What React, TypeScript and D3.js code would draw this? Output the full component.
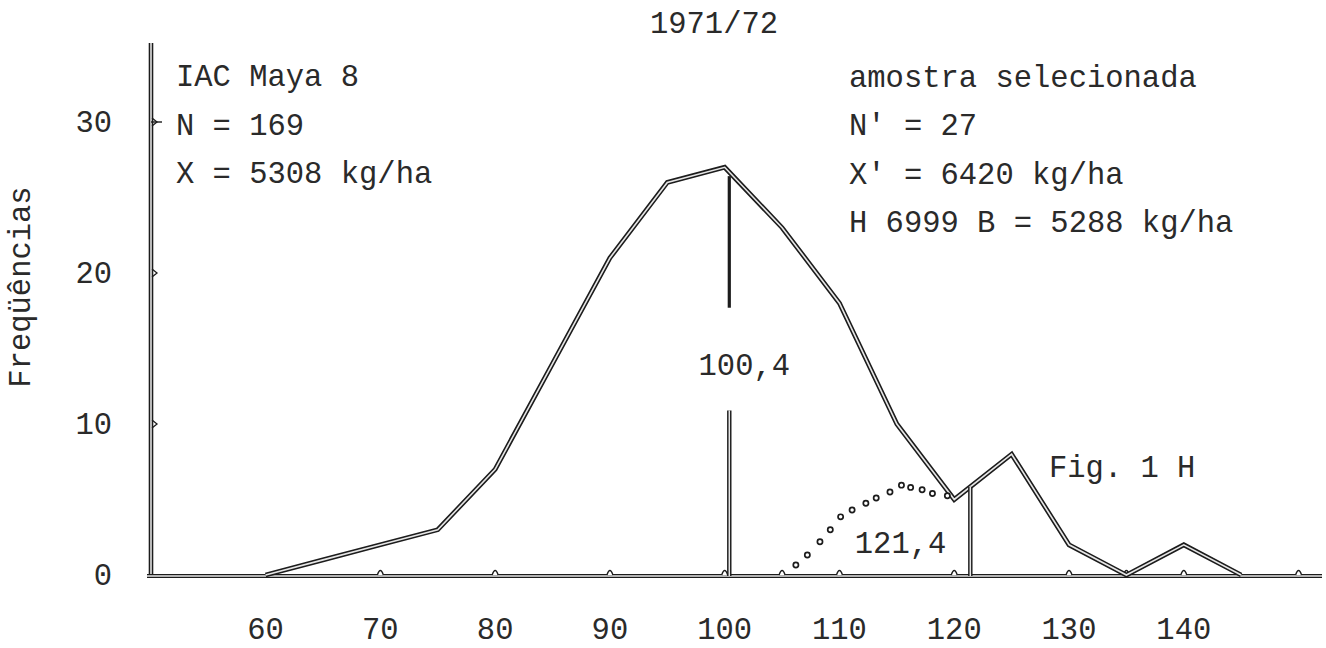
import React from "react";
import * as d3 from "d3";

// Frequency polygon, IAC Maya 8, 1971/72
const classMid = [60, 65, 70, 75, 80, 85, 90, 95, 100, 105, 110, 115, 120, 125, 130, 135, 140, 145];
const frequency = [0, 1, 2, 3, 7, 14, 21, 26, 27, 23, 18, 10, 5, 8, 2, 0, 2, 0];

// Dotted curve of the selected sample
const sampleX = [106.2, 107.2, 108.3, 109.2, 110.1, 111.1, 112.3, 113.2, 114.4, 115.4, 116.2, 117.2, 118.1, 119.4];
const sampleY = [0.66, 1.32, 2.2, 3.0, 3.85, 4.3, 4.75, 5.1, 5.5, 5.95, 5.8, 5.65, 5.4, 5.25];

const xTickLabels = [60, 70, 80, 90, 100, 110, 120, 130, 140];
const xTickMarks = [70, 80, 90, 100, 105, 110, 120, 130, 135, 140, 150];
const yTickLabels = [0, 10, 20, 30];

const meanAll = 100.4;
const meanSample = 121.4;

const leftLines = ["IAC Maya 8", "N = 169", "X = 5308 kg/ha"];
const rightLines = ["amostra selecionada", "N' = 27", "X' = 6420 kg/ha", "H 6999 B = 5288 kg/ha"];

const W = 1326;
const H = 648;
const INK = "#1c1c1c";
const TEXT_INK = "#2a2a2a";
const FONT = "'Liberation Mono', 'DejaVu Sans Mono', monospace";
const FS = 30.5;

const x = d3.scaleLinear().domain([60, 140]).range([265.6, 1183.8]);
const y = d3.scaleLinear().domain([0, 30]).range([575, 122]);

const interp = (v: number) => {
  const i = d3.bisectRight(classMid, v) - 1;
  const t = (v - classMid[i]) / (classMid[i + 1] - classMid[i]);
  return frequency[i] + t * (frequency[i + 1] - frequency[i]);
};

// Hollow "double" stroke used for the hand-inked lines
const Hollow = ({ d, w = 4 }: { d: string; w?: number }) => (
  <g fill="none" strokeLinejoin="miter" strokeLinecap="butt">
    <path d={d} stroke={INK} strokeWidth={w} />
    <path d={d} stroke="#e6e6e6" strokeWidth={w * 0.34} />
  </g>
);

export default function App() {
  const line = d3
    .line<number>()
    .x((_, i) => x(classMid[i]))
    .y((v) => y(v));
  const polygon = line(frequency) || "";

  const baseY = y(0) + 1;
  const axisX = 151;
  const axisPath = `M${axisX},43 L${axisX},${baseY}`;
  const basePath = `M147,${baseY} L1322,${baseY}`;

  const xm = x(meanAll);
  const fm = interp(meanAll);
  const upperMean = `M${xm},${y(fm) + 4} L${xm},${y(17.7)}`;
  const lowerMean = `M${xm},${y(10.9)} L${xm},${baseY}`;

  const xs = x(meanSample);
  const sampleLine = `M${xs},${baseY} L${xs},${y(interp(meanSample))}`;

  return (
    <svg
      width={W}
      height={H}
      viewBox={`0 0 ${W} ${H}`}
      style={{ position: "absolute", left: 0, top: 0, background: "#fff", display: "block" }}
    >
      <rect width={W} height={H} fill="#fff" />

      {/* title */}
      <text x={714} y={33} textAnchor="middle" fontFamily={FONT} fontSize={FS} fill={TEXT_INK}>
        1971/72
      </text>

      {/* axes */}
      <Hollow d={axisPath} w={4.6} />
      <Hollow d={basePath} w={4} />

      {/* y ticks and labels */}
      {yTickLabels.map((t) => (
        <g key={`y${t}`}>
          {t > 0 && (
            <path
              d={`M${axisX + 1},${y(t) - 4} L${axisX + 6},${y(t)} L${axisX + 1},${y(t) + 4}`}
              fill="none"
              stroke={INK}
              strokeWidth={1.3}
            />
          )}
          {t === 30 && <path d={`M${axisX},${y(t)} L${axisX + 11},${y(t)}`} stroke={INK} strokeWidth={1.4} />}
          <text
            x={112}
            y={y(t) + 10}
            textAnchor="end"
            fontFamily={FONT}
            fontSize={FS}
            fill={TEXT_INK}
          >
            {t}
          </text>
        </g>
      ))}

      <text
        transform={`translate(30,287) rotate(-90)`}
        textAnchor="middle"
        fontFamily={FONT}
        fontSize={FS}
        fill={TEXT_INK}
      >
        Freqüências
      </text>

      {/* x tick bumps */}
      {xTickMarks.map((t) => (
        <path
          key={`xm${t}`}
          d={`M${x(t) - 3},${baseY - 1} Q${x(t)},${baseY - 10} ${x(t) + 3},${baseY - 1}`}
          fill="#fff"
          stroke={INK}
          strokeWidth={1.4}
        />
      ))}

      {/* x tick labels */}
      {xTickLabels.map((t) => (
        <text
          key={`xl${t}`}
          x={x(t)}
          y={639}
          textAnchor="middle"
          fontFamily={FONT}
          fontSize={FS}
          fill={TEXT_INK}
        >
          {t}
        </text>
      ))}

      {/* frequency polygon */}
      <Hollow d={polygon} w={4.8} />

      {/* mean of the whole population */}
      <path d={upperMean} stroke={INK} strokeWidth={3.2} fill="none" />
      <Hollow d={lowerMean} w={4.4} />
      <text x={xm + 15} y={375} textAnchor="middle" fontFamily={FONT} fontSize={FS} fill={TEXT_INK}>
        100,4
      </text>

      {/* mean of the selected sample */}
      <Hollow d={sampleLine} w={4.4} />
      <text x={xs - 24} y={553} textAnchor="end" fontFamily={FONT} fontSize={FS} fill={TEXT_INK}>
        121,4
      </text>

      {/* selected sample curve */}
      {sampleX.map((v, i) => (
        <circle
          key={`s${i}`}
          cx={x(v)}
          cy={y(sampleY[i])}
          r={2.6}
          fill="#fff"
          stroke={INK}
          strokeWidth={1.7}
        />
      ))}

      <text x={1049} y={477} fontFamily={FONT} fontSize={FS} fill={TEXT_INK}>
        Fig. 1 H
      </text>

      {/* population summary */}
      {leftLines.map((s, i) => (
        <text key={`l${i}`} x={176} y={86 + i * 48.5} fontFamily={FONT} fontSize={FS} fill={TEXT_INK} xmlSpace="preserve">
          {s}
        </text>
      ))}

      {/* sample summary */}
      {rightLines.map((s, i) => (
        <text key={`r${i}`} x={849} y={87 + i * 48.4} fontFamily={FONT} fontSize={FS} fill={TEXT_INK} xmlSpace="preserve">
          {s}
        </text>
      ))}
    </svg>
  );
}
